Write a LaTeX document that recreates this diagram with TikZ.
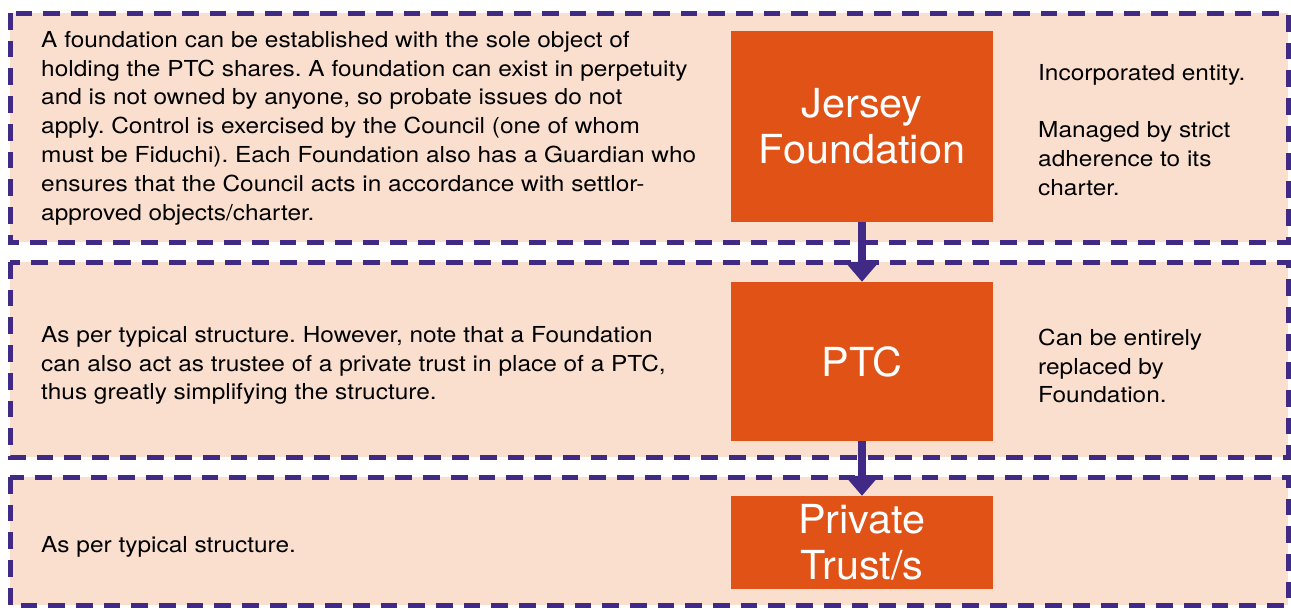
\documentclass[tikz,border=0pt]{standalone}
\usepackage{fontspec}
\setmainfont{TeX Gyre Heros}
\newfontfamily\notefont[FakeStretch=1.11]{TeX Gyre Heros}
\newfontfamily\boxfont[FakeStretch=1.035]{TeX Gyre Heros}
\frenchspacing
\usetikzlibrary{arrows.meta}
\definecolor{peach}{RGB}{250,223,206}
\definecolor{boxorange}{RGB}{224,82,22}
\definecolor{bandline}{RGB}{64,42,134}
\begin{document}
\begin{tikzpicture}[x=1pt,y=-1pt,
    band/.style={fill=peach,draw=bandline,line width=5pt,dash pattern=on 16.7pt off 11pt},
    entity/.style={fill=boxorange,text=white,font=\boxfont\fontsize{40}{46}\selectfont,align=center,inner sep=0pt,minimum width=262pt},
    note/.style={font=\notefont\fontsize{22}{28.8}\selectfont,align=left,anchor=west,inner sep=0pt},
    link/.style={-{Triangle[width=33pt,length=20pt]},draw=bandline,line width=8pt}]
  \useasboundingbox (0,0) rectangle (1291,608);
  % the three dashed bands
  \draw [band] (10,13) rectangle (1288,242);
  \draw [band] (10,262) rectangle (1288,457);
  \draw [band] (10,477) rectangle (1288,605);
  % the boxes
  \node [entity,minimum height=191pt] (jersey) at (862,126.5) {Jersey\\Foundation};
  \node [entity,minimum height=159pt] (ptc) at (862,361.5) {PTC};
  \node [entity,minimum height=93pt] (trust) at (862,542.5) {Private\\Trust/s};
  % notes
  \node [note] (jerseyleft) at (41,128) {A foundation can be established with the sole object of\\
    holding the PTC shares. A foundation can exist in perpetuity\\
    and is not owned by anyone, so probate issues do not\\
    apply. Control is exercised by the Council (one of whom\\
    must be Fiduchi). Each Foundation also has a Guardian who\\
    ensures that the Council acts in accordance with settlor-\\
    approved objects/charter.};
  \node [note] (jerseyright) at (1038,130) {Incorporated entity.\\[28.8pt]
    Managed by strict\\adherence to its\\charter.};
  \node [note] (ptcleft) at (41,365.5) {As per typical structure. However, note that a Foundation\\
    can also act as trustee of a private trust in place of a PTC,\\
    thus greatly simplifying the structure.};
  \node [note] (ptcright) at (1038,366) {Can be entirely\\replaced by\\Foundation.};
  \node [note] (trustleft) at (41,547) {As per typical structure.};
  % arrows
  \draw [link] (jersey.south) -- (ptc.north);
  \draw [link] (ptc.south) -- (trust.north);
\end{tikzpicture}
\end{document}
